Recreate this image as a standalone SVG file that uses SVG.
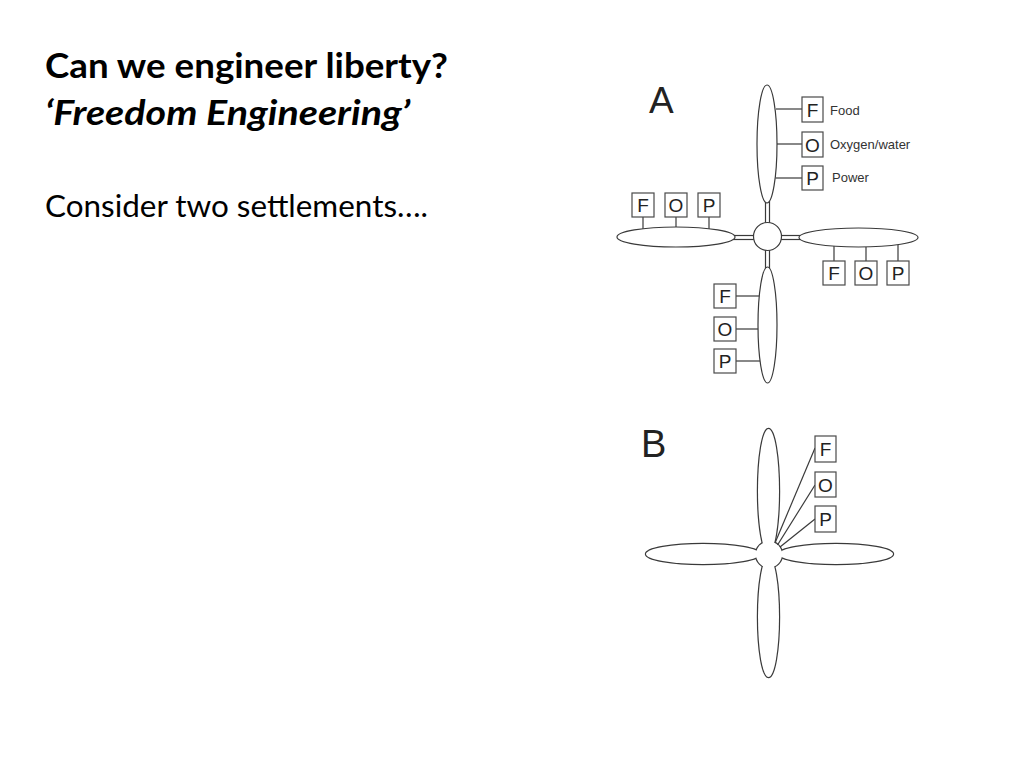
<svg xmlns="http://www.w3.org/2000/svg" width="1024" height="768" viewBox="0 0 1024 768">
<style>
.t{font-family:Lato,"Open Sans","Liberation Sans",sans-serif;fill:#000}
.s{fill:#fff;stroke:#3a3a3a;stroke-width:1.2}
.ln{stroke:#3a3a3a;stroke-width:1.2;fill:none}
.bx{fill:#fff;stroke:#4a4a4a;stroke-width:1.2}
.bl{font-family:"Liberation Sans",Arial,sans-serif;font-size:19px;fill:#222;text-anchor:middle}
.lb{font-family:"Liberation Sans",Arial,sans-serif;font-size:13px;fill:#333}
.big{font-family:"Liberation Sans",Arial,sans-serif;fill:#222}
.us{fill:none;stroke:#3a3a3a;stroke-width:2.4}
.uf{fill:#fff;stroke:none}
</style>
<rect width="1024" height="768" fill="#fff"/>
<g id="title">
<text class="t" x="45" y="78" font-size="34" font-weight="bold" textLength="403" lengthAdjust="spacingAndGlyphs">Can we engineer liberty?</text>
<text class="t" x="45" y="125" font-size="34" font-weight="bold" font-style="italic" textLength="365" lengthAdjust="spacingAndGlyphs">‘Freedom Engineering’</text>
<text class="t" x="45" y="217" font-size="30" textLength="383" lengthAdjust="spacingAndGlyphs">Consider two settlements….</text>
</g>

<!-- Diagram A -->
<g id="diagramA">
<text class="big" x="649" y="113" font-size="37">A</text>
<g id="A-connectors">
<line class="ln" x1="765.5" y1="201" x2="765.5" y2="223"/>
<line class="ln" x1="769.5" y1="201" x2="769.5" y2="223"/>
<line class="ln" x1="765.5" y1="250" x2="765.5" y2="269"/>
<line class="ln" x1="769.5" y1="250" x2="769.5" y2="269"/>
<line class="ln" x1="733" y1="235.5" x2="754" y2="235.5"/>
<line class="ln" x1="733" y1="239.5" x2="754" y2="239.5"/>
<line class="ln" x1="781" y1="235.5" x2="801" y2="235.5"/>
<line class="ln" x1="781" y1="239.5" x2="801" y2="239.5"/>
<line class="ln" x1="776" y1="109" x2="802" y2="109"/>
<line class="ln" x1="777" y1="144" x2="802" y2="144"/>
<line class="ln" x1="775.5" y1="178" x2="802" y2="178"/>
<line class="ln" x1="643" y1="217" x2="643" y2="229"/>
<line class="ln" x1="676" y1="217" x2="676" y2="227"/>
<line class="ln" x1="709" y1="217" x2="709" y2="229"/>
<line class="ln" x1="834" y1="246" x2="834" y2="261"/>
<line class="ln" x1="866" y1="247" x2="866" y2="261"/>
<line class="ln" x1="898" y1="245" x2="898" y2="261"/>
<line class="ln" x1="736" y1="296" x2="759.5" y2="296"/>
<line class="ln" x1="736" y1="329" x2="758" y2="329"/>
<line class="ln" x1="736" y1="361" x2="760" y2="361"/>
</g>
<g id="A-hub"><circle class="s" cx="767.5" cy="236.5" r="14"/></g>
<g id="A-top"><ellipse class="s" cx="767" cy="144" rx="10" ry="59"/></g>
<g id="A-bottom"><ellipse class="s" cx="767.5" cy="325" rx="9.5" ry="58"/></g>
<g id="A-left"><ellipse class="s" cx="676" cy="237" rx="59" ry="10"/></g>
<g id="A-right"><ellipse class="s" cx="858.5" cy="237.5" rx="59.5" ry="9.5"/></g>

<g id="A-top-F"><rect class="bx" x="802" y="97" width="21" height="25"/><text class="bl" x="812.5" y="116.5">F</text></g>
<g id="A-top-O"><rect class="bx" x="802" y="132" width="21" height="25"/><text class="bl" x="812.5" y="151.5">O</text></g>
<g id="A-top-P"><rect class="bx" x="802" y="166" width="21" height="24"/><text class="bl" x="812.5" y="185">P</text></g>
<text class="lb" x="830" y="115">Food</text>
<text class="lb" x="830" y="149">Oxygen/water</text>
<text class="lb" x="832" y="182">Power</text>

<g id="A-left-F"><rect class="bx" x="632" y="193" width="22" height="24"/><text class="bl" x="643" y="212">F</text></g>
<g id="A-left-O"><rect class="bx" x="665" y="193" width="22" height="24"/><text class="bl" x="676" y="212">O</text></g>
<g id="A-left-P"><rect class="bx" x="698" y="193" width="22" height="24"/><text class="bl" x="709" y="212">P</text></g>

<g id="A-right-F"><rect class="bx" x="823" y="261" width="22" height="24"/><text class="bl" x="834" y="280">F</text></g>
<g id="A-right-O"><rect class="bx" x="855" y="261" width="22" height="24"/><text class="bl" x="866" y="280">O</text></g>
<g id="A-right-P"><rect class="bx" x="887" y="261" width="22" height="24"/><text class="bl" x="898" y="280">P</text></g>

<g id="A-bottom-F"><rect class="bx" x="714" y="284" width="22" height="24"/><text class="bl" x="725" y="303">F</text></g>
<g id="A-bottom-O"><rect class="bx" x="714" y="317" width="22" height="24"/><text class="bl" x="725" y="336">O</text></g>
<g id="A-bottom-P"><rect class="bx" x="714" y="349" width="22" height="24"/><text class="bl" x="725" y="368">P</text></g>
</g>

<!-- Diagram B -->
<g id="diagramB">
<text class="big" x="641" y="457" font-size="38">B</text>
<g id="B-settlement">
<g>
<ellipse class="us" cx="768.5" cy="491" rx="10.5" ry="62"/>
<ellipse class="us" cx="768.5" cy="617" rx="10.5" ry="60"/>
<ellipse class="us" cx="703" cy="554" rx="57" ry="10"/>
<ellipse class="us" cx="836" cy="554" rx="57" ry="10"/>
<circle class="us" cx="769" cy="554.5" r="13"/>
</g>
<g>
<ellipse class="uf" cx="768.5" cy="491" rx="10.5" ry="62"/>
<ellipse class="uf" cx="768.5" cy="617" rx="10.5" ry="60"/>
<ellipse class="uf" cx="703" cy="554" rx="57" ry="10"/>
<ellipse class="uf" cx="836" cy="554" rx="57" ry="10"/>
<circle class="uf" cx="769" cy="554.5" r="13"/>
</g>
</g>
<g id="B-connectors">
<line class="ln" x1="815" y1="448" x2="775" y2="543"/>
<line class="ln" x1="815" y1="485" x2="777.5" y2="545"/>
<line class="ln" x1="815" y1="519" x2="780" y2="547"/>
</g>
<g id="B-F"><rect class="bx" x="815" y="436" width="21" height="26"/><text class="bl" x="825.5" y="456">F</text></g>
<g id="B-O"><rect class="bx" x="815" y="472" width="21" height="25"/><text class="bl" x="825.5" y="491.5">O</text></g>
<g id="B-P"><rect class="bx" x="815" y="506" width="21" height="26"/><text class="bl" x="825.5" y="526">P</text></g>
</g>
</svg>
